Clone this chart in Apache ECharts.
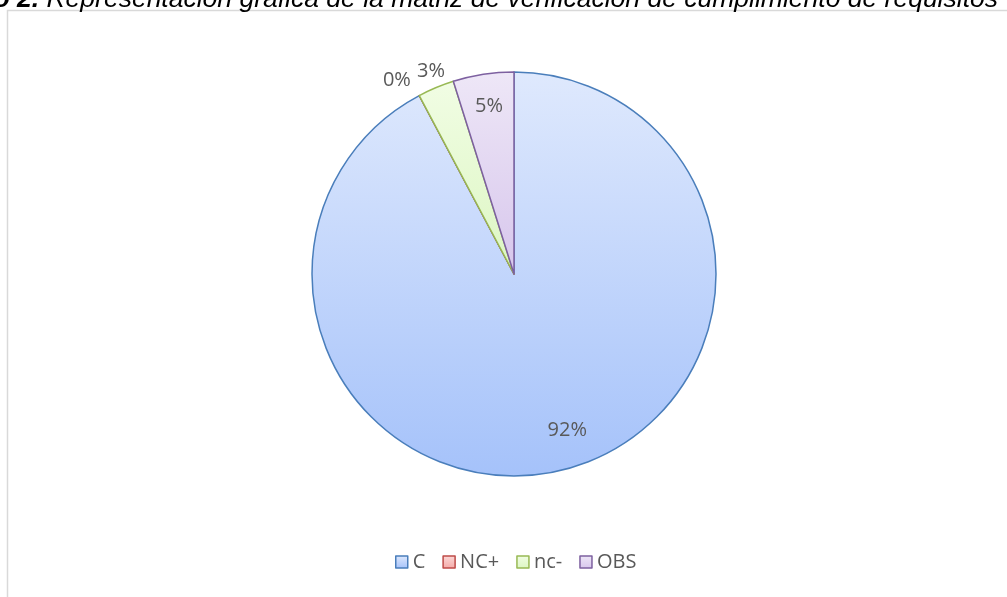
<!DOCTYPE html>
<html>
<head>
<meta charset="utf-8">
<script src="https://cdn.jsdelivr.net/npm/echarts@6/dist/echarts.min.js"></script>
<style>
  html, body { margin: 0; padding: 0; background: #ffffff; }
  #chart { width: 1007px; height: 597px; }
</style>
</head>
<body>
<div id="chart"></div>
<script>
// Requirement-compliance matrix: number of requirements per verification result
const categories = ['C', 'NC+', 'nc-', 'OBS'];
const counts = [95, 0, 3, 5];

// Fill gradients (top, bottom) and outline colour per category
const fillTop = ['#dfe9fd', '#fcd9d8', '#f1fde4', '#eee7f7'];
const fillBottom = ['#a5c2fa', '#f4a9a7', '#dcf6c2', '#d7c6ec'];
const outline = ['#4a7ebb', '#be4b48', '#98b954', '#7d60a0'];
// Which labels sit inside their slice
const labelInside = [true, false, false, true];

const CX = 514, CY = 274, R = 202;
const textColor = '#595959';
const labelFont = '"Open Sans", "Noto Sans", sans-serif';

function grad(i) {
  return {
    type: 'linear', x: 0, y: 0, x2: 0, y2: 1,
    colorStops: [{ offset: 0, color: fillTop[i] }, { offset: 1, color: fillBottom[i] }]
  };
}

const pieData = categories.map((name, i) => ({
  name: name,
  value: counts[i],
  itemStyle: { color: grad(i), borderColor: outline[i], borderWidth: 1.5 }
}));

const labelData = categories.map((name, i) => ({
  name: name,
  value: counts[i],
  label: { position: labelInside[i] ? 'inside' : 'outside' }
}));

// small label nudges (dx, dy) per category
const labelNudge = [[12, -9], [0, 1], [16, 0], [1, 1]];

const chart = echarts.init(document.getElementById('chart'), null, { renderer: 'canvas' });

chart.setOption({
  animation: false,
  backgroundColor: '#ffffff',
  title: {
    text: '{b|Gráfico 2.} Representación gráfica de la matriz de verificación de cumplimiento de requisitos',
    right: 9,
    top: -14,
    padding: 0,
    textStyle: {
      fontFamily: 'Liberation Sans, Arial, sans-serif',
      fontStyle: 'italic',
      fontWeight: 'normal',
      fontSize: 26.5,
      color: '#000000',
      rich: {
        b: {
          fontFamily: 'Liberation Sans, Arial, sans-serif',
          fontStyle: 'italic',
          fontWeight: 'bold',
          fontSize: 26.5,
          color: '#000000'
        }
      }
    }
  },
  graphic: [{
    type: 'rect',
    silent: true,
    shape: { x: 7.5, y: 10.5, width: 1200, height: 800 },
    style: { fill: 'none', stroke: '#d9d9d9', lineWidth: 1.5 }
  }],
  legend: {
    data: categories.map((name, i) => ({
      name: name,
      itemStyle: { color: grad(i), borderColor: outline[i], borderWidth: 1.5 }
    })),
    left: 395,
    top: 552,
    padding: 0,
    icon: 'rect',
    itemWidth: 12,
    itemHeight: 12,
    itemGap: 17,
    textStyle: { color: textColor, fontSize: 20, fontFamily: labelFont }
  },
  series: [
    {
      // the slices
      type: 'pie',
      center: [CX, CY],
      radius: [0, R],
      startAngle: 90,
      clockwise: true,
      avoidLabelOverlap: false,
      label: { show: false },
      labelLine: { show: false },
      emphasis: { disabled: true },
      data: pieData
    },
    {
      // percentage labels, placed on a transparent ring near the rim
      type: 'pie',
      center: [CX, CY],
      radius: [R * 0.66, R],
      startAngle: 90,
      clockwise: true,
      silent: true,
      avoidLabelOverlap: false,
      percentPrecision: 0,
      itemStyle: { color: 'rgba(0,0,0,0)', borderWidth: 0 },
      label: {
        show: true,
        formatter: '{d}%',
        color: textColor,
        fontSize: 20,
        fontFamily: labelFont,
        distanceToLabelLine: 0
      },
      labelLine: { show: false, length: 18, length2: 0 },
      labelLayout: function (params) {
        const n = labelNudge[params.dataIndex];
        return { dx: n[0], dy: n[1] };
      },
      emphasis: { disabled: true },
      data: labelData
    }
  ]
});
</script>
</body>
</html>
